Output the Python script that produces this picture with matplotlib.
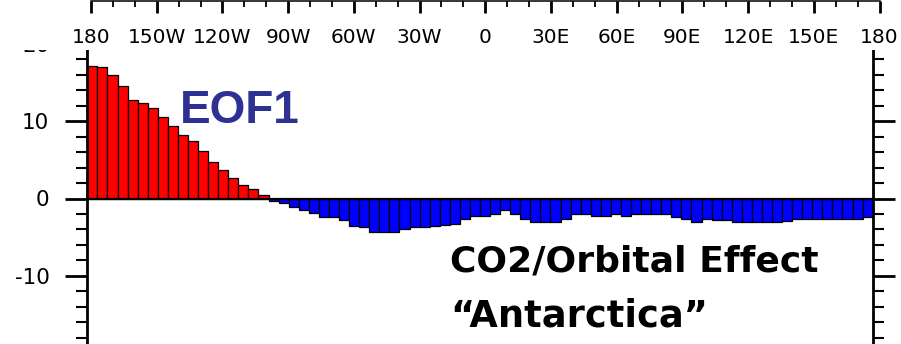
import matplotlib
matplotlib.use("Agg")
import matplotlib.pyplot as plt
import numpy as np
from matplotlib.patches import Rectangle
from matplotlib.ticker import MultipleLocator

# EOF1 loading by longitude band, from 180W eastward to 180E
eof1 = [17.2, 17.0, 16.0, 14.6, 12.8, 12.3, 11.7, 10.5, 9.4, 8.2,
        7.5, 6.2, 4.7, 3.7, 2.6, 1.7, 1.2, 0.5, -0.3, -0.6,
        -1.1, -1.5, -1.9, -2.4, -2.4, -2.8, -3.6, -3.7, -4.3, -4.3,
        -4.3, -4.0, -3.7, -3.7, -3.5, -3.4, -3.3, -2.7, -2.2, -2.2,
        -2.0, -1.5, -2.0, -2.7, -3.1, -3.1, -3.1, -2.65, -1.95, -1.95,
        -2.2, -2.2, -2.0, -2.25, -2.0, -2.0, -2.0, -2.0, -2.45, -2.6,
        -3.1, -2.65, -2.75, -2.75, -3.1, -3.1, -3.1, -3.1, -3.1, -2.85,
        -2.7, -2.7, -2.7, -2.7, -2.7, -2.7, -2.7, -2.4]

y_ticks = [-20, -10, 0, 10, 20]
y_tick_labels = ["-20", "-10", "0", "10", "20"]

lon_ticks = [-180, -150, -120, -90, -60, -30, 0, 30, 60, 90, 120, 150, 180]
lon_tick_labels = ["180", "150W", "120W", "90W", "60W", "30W", "0",
                   "30E", "60E", "90E", "120E", "150E", "180"]

POS_COLOR = "#FF0000"
NEG_COLOR = "#0000FF"
TITLE_COLOR = "#2E3192"

W, H = 901, 344
fig = plt.figure(figsize=(W / 100, H / 100), dpi=100)


def px_box(left, top, right, bottom):
    return [left / W, 1 - bottom / H, (right - left) / W, (bottom - top) / H]


# --- bar panel ---
ax = fig.add_axes(px_box(87.3, 43.9, 872.7, 353.1))
n = len(eof1)
width = 360.0 / n
lons = -180 + width * (np.arange(n) + 0.5)
colors = [POS_COLOR if v > 0 else NEG_COLOR for v in eof1]
ax.bar(lons, eof1, width=width, color=colors, edgecolor="black",
       linewidth=0.9, zorder=2)
ax.axhline(0, color="black", lw=1.6, zorder=3)
ax.set_xlim(-180, 180)
ax.set_ylim(-20, 20)
ax.set_yticks(y_ticks)
ax.set_yticklabels(y_tick_labels)
ax.yaxis.set_minor_locator(MultipleLocator(2))
ax.tick_params(axis="y", which="both", left=True, right=True, direction="out")
ax.tick_params(axis="y", which="major", length=15.8, width=2, pad=11.5,
               labelsize=15.5)
ax.tick_params(axis="y", which="minor", length=7.9, width=1.5)
ax.tick_params(axis="x", which="both", bottom=False, top=False,
               labelbottom=False)
for s in ax.spines.values():
    s.set_linewidth(2)

# --- white band at the top carrying the longitude scale ---
cover = fig.add_axes(px_box(0, 0, W, 50))
cover.set_zorder(2)
cover.set_axis_off()
cover.add_patch(Rectangle((0, 0), 1, 1, transform=cover.transAxes,
                          facecolor="white", edgecolor="none"))

tx = fig.add_axes(px_box(91, 1, 879.5, 50))
tx.set_zorder(3)
tx.set_facecolor("none")
for name, s in tx.spines.items():
    s.set_visible(name == "top")
tx.spines["top"].set_linewidth(1.1)
tx.set_xlim(-180, 180)
tx.set_xticks(lon_ticks)
tx.set_xticklabels(lon_tick_labels)
tx.xaxis.set_minor_locator(MultipleLocator(10))
tx.set_yticks([])
tx.tick_params(axis="x", which="both", bottom=False, top=True,
               labelbottom=False, labeltop=True, direction="in")
tx.tick_params(axis="x", which="major", length=8.6, width=2, pad=-33,
               labelsize=14.5)
tx.tick_params(axis="x", which="minor", length=4.3, width=1.3)

# --- annotations ---
fig.text(180 / W, 1 - 123 / H, "EOF1", color=TITLE_COLOR, fontsize=33,
         fontweight="bold", family="Liberation Sans", ha="left",
         va="baseline", zorder=5)
fig.text(450 / W, 1 - 271.7 / H, "CO2/Orbital Effect", color="black",
         fontsize=26, fontweight="bold", family="DejaVu Sans", ha="left",
         va="baseline", zorder=5)
fig.text(450 / W, 1 - 326.7 / H, "\u201cAntarctica\u201d", color="black",
         fontsize=26.5, fontweight="bold", family="DejaVu Sans", ha="left",
         va="baseline", zorder=5)

fig.savefig("out.png", dpi=100)
